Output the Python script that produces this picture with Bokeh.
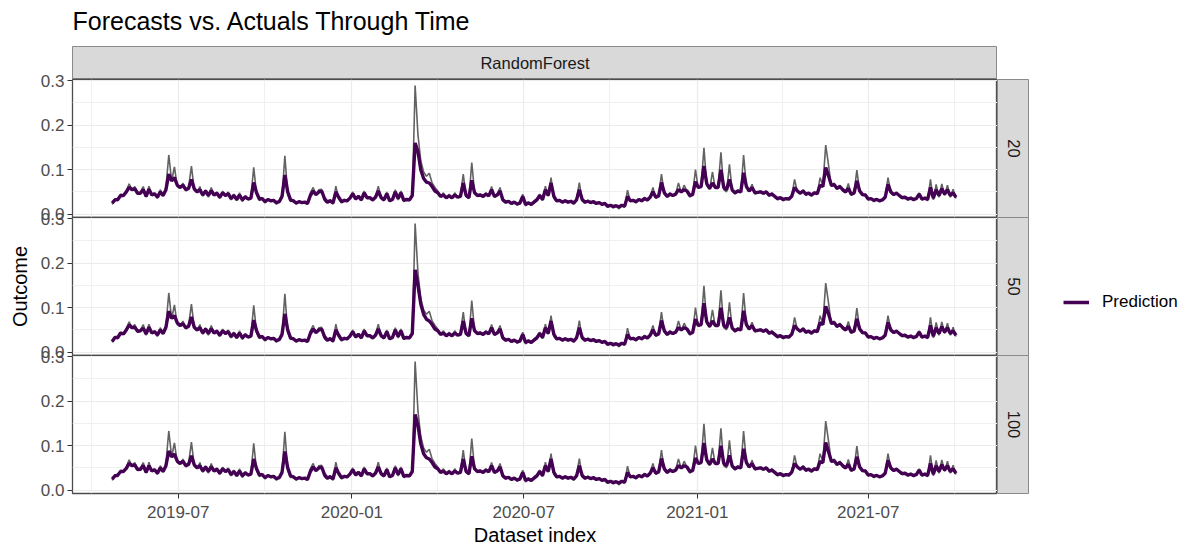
import math
from datetime import datetime
import pandas as pd
from bokeh.plotting import figure
from bokeh.models import (Range1d, FixedTicker, NumeralTickFormatter, DatetimeTickFormatter,
                          Label, Legend, LegendItem)
from bokeh.layouts import column, row
from bokeh.embed import file_html
from bokeh.resources import INLINE

FONT = "Liberation Sans"

# ---------------- data (in thousandths) ----------------
start_date = "2019-04-22"
step_days = 3

actual_x1000 = [
    22, 35, 30, 45, 40, 52, 68, 55, 62, 45,
    50, 62, 38, 63, 42, 48, 35, 55, 40, 60,
    133, 75, 106, 62, 58, 70, 52, 60, 108, 55,
    48, 62, 40, 55, 38, 60, 42, 50, 35, 52,
    40, 50, 32, 45, 30, 48, 28, 42, 33, 38,
    105, 45, 30, 38, 25, 35, 28, 33, 22, 30,
    40, 131, 45, 28, 32, 22, 30, 25, 28, 22,
    48, 60, 42, 55, 56, 30, 25, 33, 22, 63,
    35, 25, 33, 28, 38, 50, 32, 42, 30, 52,
    35, 38, 30, 40, 63, 35, 30, 50, 28, 35,
    55, 32, 52, 28, 35, 30, 40, 289, 178, 120,
    95, 85, 92, 70, 60, 52, 40, 48, 35, 45,
    35, 48, 38, 42, 90, 40, 35, 116, 48, 42,
    45, 38, 48, 40, 62, 38, 45, 60, 30, 25,
    30, 22, 28, 20, 25, 45, 18, 28, 20, 30,
    35, 45, 30, 63, 40, 82, 35, 28, 33, 25,
    32, 25, 30, 22, 35, 71, 30, 25, 32, 24,
    30, 22, 28, 20, 25, 15, 20, 14, 18, 12,
    20, 15, 54, 28, 32, 25, 35, 28, 38, 30,
    40, 60, 35, 42, 90, 45, 38, 48, 40, 45,
    70, 48, 65, 52, 38, 45, 100, 58, 65, 149,
    65, 55, 95, 58, 62, 139, 55, 50, 112, 52,
    45, 55, 48, 133, 62, 50, 67, 45, 50, 52,
    45, 52, 40, 48, 38, 32, 38, 30, 36, 32,
    40, 78, 50, 45, 55, 42, 48, 40, 50, 45,
    82, 65, 155, 110, 62, 70, 55, 65, 52, 48,
    69, 42, 48, 99, 50, 42, 45, 32, 36, 28,
    35, 28, 33, 40, 82, 48, 42, 50, 40, 35,
    40, 32, 38, 30, 36, 48, 32, 38, 30, 78,
    32, 67, 38, 68, 42, 65, 38, 56, 35,
]

pred20_x1000 = [
    25, 32, 33, 42, 42, 50, 60, 55, 57, 47,
    47, 55, 40, 56, 43, 46, 38, 50, 42, 55,
    90, 75, 82, 65, 60, 65, 55, 58, 78, 57,
    50, 55, 43, 52, 42, 53, 43, 47, 38, 48,
    42, 46, 35, 42, 33, 43, 32, 39, 34, 36,
    71, 48, 34, 35, 28, 33, 30, 31, 26, 28,
    40, 88, 50, 32, 30, 25, 28, 26, 27, 24,
    42, 52, 44, 50, 52, 35, 27, 30, 25, 50,
    38, 28, 31, 30, 36, 46, 34, 40, 32, 48,
    37, 37, 32, 38, 52, 37, 32, 46, 30, 33,
    50, 35, 48, 31, 33, 32, 42, 160, 140, 100,
    80, 72, 70, 62, 52, 48, 40, 43, 37, 41,
    37, 43, 38, 40, 70, 42, 37, 76, 48, 42,
    43, 40, 45, 41, 55, 40, 43, 52, 32, 27,
    29, 24, 27, 23, 25, 40, 22, 25, 22, 27,
    32, 42, 33, 55, 42, 70, 40, 30, 31, 27,
    30, 27, 29, 25, 32, 55, 33, 27, 29, 26,
    28, 24, 26, 22, 24, 18, 20, 17, 19, 16,
    20, 18, 40, 30, 31, 28, 33, 30, 35, 32,
    38, 50, 38, 41, 71, 48, 40, 45, 42, 45,
    55, 50, 55, 52, 42, 44, 73, 60, 62, 108,
    68, 58, 70, 60, 60, 100, 60, 55, 78, 54,
    48, 52, 50, 93, 62, 52, 60, 48, 49, 50,
    47, 50, 43, 45, 40, 35, 37, 33, 35, 34,
    40, 60, 52, 47, 52, 45, 47, 43, 48, 46,
    65, 62, 105, 86, 65, 66, 58, 62, 55, 50,
    58, 45, 47, 75, 52, 44, 43, 34, 35, 31,
    33, 30, 32, 38, 67, 50, 44, 47, 42, 37,
    38, 34, 36, 33, 35, 45, 34, 36, 33, 60,
    36, 55, 42, 57, 45, 55, 42, 48, 38,
]

pred50_x1000 = [
    24, 33, 33, 43, 41, 50, 61, 55, 56, 47,
    48, 54, 41, 56, 43, 46, 39, 50, 42, 56,
    92, 76, 82, 66, 60, 64, 55, 58, 79, 56,
    50, 55, 43, 52, 42, 53, 43, 47, 38, 48,
    42, 46, 35, 42, 33, 43, 32, 39, 34, 36,
    72, 48, 34, 35, 28, 33, 30, 31, 26, 28,
    40, 86, 50, 32, 30, 25, 28, 26, 27, 24,
    42, 52, 44, 50, 52, 35, 27, 30, 25, 50,
    38, 28, 31, 30, 36, 46, 34, 40, 32, 48,
    37, 37, 32, 38, 52, 37, 32, 46, 30, 33,
    50, 35, 48, 31, 33, 32, 42, 185, 150, 108,
    85, 74, 70, 62, 52, 48, 40, 43, 37, 41,
    37, 43, 38, 40, 70, 42, 37, 76, 48, 42,
    43, 40, 45, 41, 55, 40, 43, 52, 32, 27,
    29, 24, 27, 23, 25, 40, 22, 25, 22, 27,
    32, 42, 33, 55, 42, 70, 40, 30, 31, 27,
    30, 27, 29, 25, 32, 55, 33, 27, 29, 26,
    28, 24, 26, 22, 24, 18, 20, 17, 19, 16,
    20, 18, 40, 30, 31, 28, 33, 30, 35, 32,
    38, 50, 38, 41, 71, 48, 40, 45, 42, 45,
    55, 50, 55, 52, 42, 44, 74, 60, 62, 110,
    68, 58, 70, 60, 60, 100, 60, 55, 78, 54,
    48, 52, 50, 93, 62, 52, 60, 48, 49, 50,
    47, 50, 43, 45, 40, 35, 37, 33, 35, 34,
    40, 60, 52, 47, 52, 45, 47, 43, 48, 46,
    66, 62, 103, 86, 65, 66, 58, 62, 55, 50,
    58, 45, 47, 75, 52, 44, 43, 34, 35, 31,
    33, 30, 32, 38, 67, 50, 44, 47, 42, 37,
    38, 34, 36, 33, 35, 45, 34, 36, 33, 60,
    36, 55, 42, 57, 45, 55, 42, 48, 38,
]

pred100_x1000 = [
    25, 32, 34, 42, 42, 49, 60, 55, 57, 46,
    47, 55, 40, 55, 43, 46, 38, 50, 42, 55,
    88, 75, 81, 65, 60, 65, 55, 58, 77, 57,
    50, 55, 43, 52, 42, 53, 43, 47, 38, 48,
    42, 46, 35, 42, 33, 43, 32, 39, 34, 36,
    70, 48, 34, 35, 28, 33, 30, 31, 26, 28,
    40, 87, 50, 32, 30, 25, 28, 26, 27, 24,
    42, 52, 44, 50, 52, 35, 27, 30, 25, 50,
    38, 28, 31, 30, 36, 46, 34, 40, 32, 48,
    37, 37, 32, 38, 52, 37, 32, 46, 30, 33,
    50, 35, 48, 31, 33, 32, 42, 170, 145, 104,
    82, 73, 70, 62, 52, 48, 40, 43, 37, 41,
    37, 43, 38, 40, 70, 42, 37, 76, 48, 42,
    43, 40, 45, 41, 55, 40, 43, 52, 32, 27,
    29, 24, 27, 23, 25, 40, 22, 25, 22, 27,
    32, 42, 33, 55, 42, 70, 40, 30, 31, 27,
    30, 27, 29, 25, 32, 55, 33, 27, 29, 26,
    28, 24, 26, 22, 24, 18, 20, 17, 19, 16,
    20, 18, 40, 30, 31, 28, 33, 30, 35, 32,
    38, 50, 38, 41, 71, 48, 40, 45, 42, 45,
    55, 50, 55, 52, 42, 44, 72, 60, 62, 106,
    68, 58, 70, 60, 60, 100, 60, 55, 78, 54,
    48, 52, 50, 93, 62, 52, 60, 48, 49, 50,
    47, 50, 43, 45, 40, 35, 37, 33, 35, 34,
    40, 60, 52, 47, 52, 45, 47, 43, 48, 46,
    64, 62, 107, 86, 65, 66, 58, 62, 55, 50,
    58, 45, 47, 75, 52, 44, 43, 34, 35, 31,
    33, 30, 32, 38, 67, 50, 44, 47, 42, 37,
    38, 34, 36, 33, 35, 45, 34, 36, 33, 60,
    36, 55, 42, 57, 45, 55, 42, 48, 38,
]

panel_names = ["20", "50", "100"]
model_name = "RandomForest"
legend_label = "Prediction"
title_text = "Forecasts vs. Actuals Through Time"
x_label = "Dataset index"
y_label = "Outcome"

x_tick_dates = ["2019-07-01", "2020-01-01", "2020-07-01", "2021-01-01", "2021-07-01"]
x_tick_labels = ["2019-07", "2020-01", "2020-07", "2021-01", "2021-07"]
x_minor_dates = ["2019-03-31", "2019-09-30", "2020-04-01", "2020-09-30", "2021-04-01", "2021-09-30"]
y_ticks = [0.0, 0.1, 0.2, 0.3]
y_minor_ticks = [0.05, 0.15, 0.25]

# ---------------- derived ----------------
n = min(len(actual_x1000), len(pred20_x1000), len(pred50_x1000), len(pred100_x1000))
dates = pd.date_range(start_date, periods=n, freq=f"{step_days}D")
actual = [v / 1000 for v in actual_x1000[:n]]
preds = {
    "20": [v / 1000 for v in pred20_x1000[:n]],
    "50": [v / 1000 for v in pred50_x1000[:n]],
    "100": [v / 1000 for v in pred100_x1000[:n]],
}


def ms(d):
    return int(pd.Timestamp(d).value // 10**6)


x_ticks_ms = [ms(d) for d in x_tick_dates]
x_minor_ms = [ms(d) for d in x_minor_dates]

X_START = datetime(2019, 3, 11)
X_END = datetime(2021, 11, 15)
Y_START, Y_END = -0.0075, 0.3025

PANEL_W = 997
PANEL_H = 138
LEFT = 72
XAXIS_H = 51
STRIP_W = 32
LEGEND_W = 154
PAD = 10          # transparent overlap band so edge tick labels are not clipped
TITLE_H = 46
STRIP_TOP_H = 33
XLAB_H = 24       # row for the x axis title, overlapping the bottom border
XLAB_FROM_BOTTOM = 10

TICK_COLOR = "#4D4D4D"
PURPLE = "#440154"
GREY = "#626262"
GRID = "#EBEBEB"
STRIP_FILL = "#D9D9D9"
STRIP_LINE = "#8A8A8A"
PANEL_LINE = "#4D4D4D"
TICK_FS = "17px"
STRIP_FS = "16.5px"
AXT_FS = "20px"


def style_axis(ax):
    ax.axis_line_color = None
    ax.major_tick_line_color = "#333333"
    ax.major_tick_in = 0
    ax.major_tick_out = 5
    ax.minor_tick_line_color = None
    ax.major_label_text_font = FONT
    ax.major_label_text_font_size = TICK_FS
    ax.major_label_text_color = TICK_COLOR
    ax.major_label_standoff = 3
    ax.axis_label_text_font = FONT
    ax.axis_label_text_font_size = AXT_FS
    ax.axis_label_text_font_style = "normal"
    ax.axis_label_text_color = "black"


def blank_fig(w, h, top=0, bottom=0, left=0, right=0):
    f = figure(width=w, height=h, x_range=Range1d(0, 1), y_range=Range1d(0, 1),
               output_backend="svg", toolbar_location=None,
               x_axis_location=None, y_axis_location=None,
               min_border_left=left, min_border_right=right,
               min_border_top=top, min_border_bottom=bottom)
    f.grid.visible = False
    f.border_fill_color = None
    return f


def make_panel(name, show_x, show_ylabel):
    bottom = XAXIS_H if show_x else PAD
    p = figure(width=PANEL_W, height=PAD + PANEL_H + bottom, x_axis_type="datetime",
               x_range=Range1d(X_START, X_END), y_range=Range1d(Y_START, Y_END),
               output_backend="svg", toolbar_location=None,
               min_border_left=LEFT, min_border_right=0, min_border_top=PAD,
               min_border_bottom=bottom)
    p.background_fill_color = "white"
    p.border_fill_color = None
    p.outline_line_color = PANEL_LINE
    p.outline_line_width = 1.3

    xt = FixedTicker(ticks=x_ticks_ms, minor_ticks=x_minor_ms)
    yt = FixedTicker(ticks=y_ticks, minor_ticks=y_minor_ticks)
    p.xaxis.ticker = xt
    p.xgrid.ticker = xt
    p.yaxis.ticker = yt
    p.ygrid.ticker = yt
    p.xaxis.formatter = DatetimeTickFormatter(days="%Y-%m", months="%Y-%m", years="%Y-%m")
    p.xaxis.major_label_overrides = {t: lab for t, lab in zip(x_ticks_ms, x_tick_labels)}
    p.yaxis.formatter = NumeralTickFormatter(format="0.0")
    style_axis(p.xaxis[0])
    style_axis(p.yaxis[0])
    if not show_x:
        p.xaxis.visible = False
    else:
        p.xaxis.major_label_standoff = 7
    if show_ylabel:
        p.yaxis.axis_label = y_label
        p.yaxis.axis_label_standoff = 7

    for g in (p.xgrid, p.ygrid):
        g.grid_line_color = GRID
        g.grid_line_width = 1.2
        g.minor_grid_line_color = "#F0F0F0"
        g.minor_grid_line_width = 1.0

    p.line(dates, actual, color=GREY, line_width=1.6)
    p.line(dates, preds[name], color=PURPLE, line_width=3.4)
    return p


def make_strip(text, show_x):
    bottom = XAXIS_H if show_x else PAD
    s = blank_fig(STRIP_W, PAD + PANEL_H + bottom, top=PAD, bottom=bottom)
    s.background_fill_color = STRIP_FILL
    s.outline_line_color = STRIP_LINE
    s.add_layout(Label(x=0.5, y=0.5, text=text, angle=-math.pi / 2,
                       text_align="center", text_baseline="middle",
                       text_font=FONT, text_font_size=STRIP_FS, text_color="#1A1A1A"))
    return s


# title row
title_fig = blank_fig(PANEL_W, TITLE_H, left=LEFT)
title_fig.background_fill_color = None
title_fig.outline_line_color = None
title_fig.add_layout(Label(x=0, y=(TITLE_H - 20) / TITLE_H, text=title_text,
                           text_align="left", text_baseline="middle",
                           text_font=FONT, text_font_size="25px", text_color="black"))

# top strip
top_strip = blank_fig(PANEL_W, STRIP_TOP_H, left=LEFT)
top_strip.background_fill_color = STRIP_FILL
top_strip.outline_line_color = STRIP_LINE
top_strip.add_layout(Label(x=0.5, y=0.5, text=model_name, text_align="center", text_baseline="middle",
                           text_font=FONT, text_font_size=STRIP_FS, text_color="#1A1A1A"))

rows = [title_fig, top_strip]
for i, name in enumerate(panel_names):
    show_x = (i == len(panel_names) - 1)
    p = make_panel(name, show_x, i == 1)
    s = make_strip(name, show_x)
    top_margin = -PAD if i == 0 else -2 * PAD
    if i == 1:
        lf = blank_fig(LEGEND_W, PAD + PANEL_H + PAD, top=PAD, bottom=PAD)
        lf.outline_line_color = None
        lf.background_fill_color = None
        lr = lf.line(dates, preds[name], color=PURPLE, line_width=3.5)
        leg = Legend(items=[LegendItem(label=legend_label, renderers=[lr])],
                     location=(34, 43), glyph_width=26, glyph_height=16, label_standoff=13,
                     padding=0, margin=0, spacing=0, border_line_color=None,
                     background_fill_alpha=0,
                     label_text_font=FONT, label_text_font_size=TICK_FS, label_text_color="black")
        lf.add_layout(leg)
        rows.append(row(p, s, lf, spacing=0, margin=(top_margin, 0, 0, 0)))
    else:
        rows.append(row(p, s, spacing=0, margin=(top_margin, 0, 0, 0)))

# x axis title row (overlaps the transparent bottom border of the last panel)
xlab_fig = blank_fig(PANEL_W, XLAB_H, left=LEFT)
xlab_fig.background_fill_color = None
xlab_fig.outline_line_color = None
xlab_fig.margin = (-XLAB_H, 0, 0, 0)
xlab_fig.add_layout(Label(x=0.5, y=XLAB_FROM_BOTTOM / XLAB_H, text=x_label,
                          text_align="center", text_baseline="middle",
                          text_font=FONT, text_font_size=AXT_FS, text_color="black"))
rows.append(xlab_fig)

layout = column(*rows, spacing=0)

open("out.html", "w").write(file_html(layout, INLINE))
